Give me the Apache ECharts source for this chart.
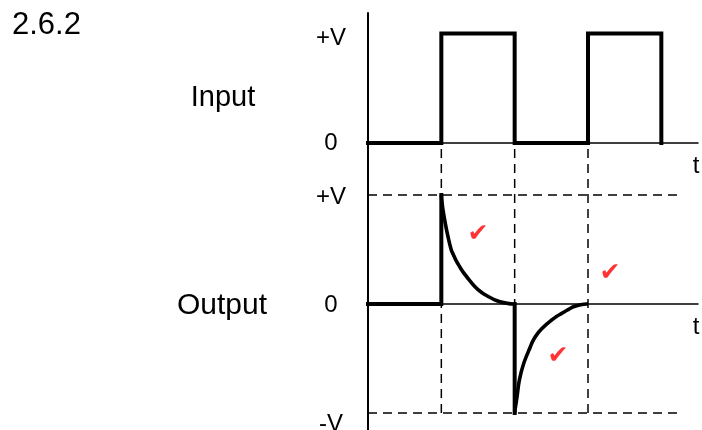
<!DOCTYPE html>
<html><head><meta charset="utf-8">
<script src="https://cdn.jsdelivr.net/npm/echarts@6/dist/echarts.min.js"></script>
<style>html,body{margin:0;padding:0;background:#fff}#c{width:702px;height:430px}</style>
</head><body><div id="c"></div>
<script>
// Input square wave (t in half-periods, value in units of V)
const inputT = [0, 1, 1, 2, 2, 3, 3, 4, 4];
const inputV = [0, 0, 1, 1, 0, 0, 1, 1, 0];
// Output: step up then RC decay, step down then RC recovery
const stepUpT = [0, 1, 1];
const stepUpV = [0, 0, 1];
const decayT = [1, 1.006, 1.023, 1.054, 1.091, 1.136, 1.163, 1.20, 1.25, 1.30, 1.346, 1.459, 1.55, 1.644, 1.72, 1.800, 1.90, 1.977, 2];
const decayV = [1, 0.95, 0.862, 0.740, 0.617, 0.495, 0.454, 0.40, 0.342, 0.29, 0.250, 0.159, 0.105, 0.067, 0.04, 0.021, 0.006, 0, 0];
const stepDownT = [2, 2];
const stepDownV = [0, -1];
const riseT = [2, 2.005, 2.032, 2.063, 2.123, 2.213, 2.254, 2.314, 2.369, 2.44, 2.505, 2.57, 2.642, 2.72, 2.800, 2.90, 2.982, 3];
const riseV = [-1, -0.97, -0.854, -0.700, -0.546, -0.394, -0.332, -0.270, -0.228, -0.182, -0.147, -0.114, -0.086, -0.055, -0.025, -0.006, 0, 0];
// Guides
const edgeTimes = [1, 2, 3];
const levelValues = [1, -1];
const guideEnd = 4.26;
const levelLabels = {'1': '+V', '0': '0', '-1': '-V'};
// Check marks
const checkT = [1.50, 2.59, 3.30];
const checkV = [0.633, -0.485, 0.284];
const texts = {number: '2.6.2', input: 'Input', output: 'Output', axis: 't', check: '✔'};

const zip = (a, b) => a.map((x, i) => [x, b[i]]);
const FONT = 'Liberation Sans, Arial, sans-serif';
const Y2MIN = -1.156, Y2MAX = 1.477;

const chart = echarts.init(document.getElementById('c'), null, {renderer: 'canvas'});

const thick = {color: '#000', width: 4, cap: 'square', join: 'miter'};
const curve = {color: '#000', width: 3.6, cap: 'butt', join: 'round'};
const series = [];
series.push({type: 'line', xAxisIndex: 0, yAxisIndex: 0, data: zip(inputT, inputV), symbol: 'none', lineStyle: thick, z: 5});
series.push({type: 'line', xAxisIndex: 1, yAxisIndex: 1, data: zip(stepUpT, stepUpV), symbol: 'none', lineStyle: thick, z: 5});
series.push({type: 'line', xAxisIndex: 1, yAxisIndex: 1, data: zip(decayT, decayV), symbol: 'none', smooth: 0.35, lineStyle: curve, z: 5});
series.push({type: 'line', xAxisIndex: 1, yAxisIndex: 1, data: zip(stepDownT, stepDownV), symbol: 'none', lineStyle: thick, z: 5});
series.push({type: 'line', xAxisIndex: 1, yAxisIndex: 1, data: zip(riseT, riseV), symbol: 'none', smooth: 0.35, lineStyle: curve, z: 5});
const dash = {color: '#000', width: 1.5, type: [9, 6]};
edgeTimes.forEach(t => series.push({type: 'line', xAxisIndex: 1, yAxisIndex: 1, data: [[t, -1], [t, Y2MAX]], symbol: 'none', lineStyle: dash, z: 2}));
levelValues.forEach(v => series.push({type: 'line', xAxisIndex: 1, yAxisIndex: 1, data: [[0, v], [guideEnd, v]], symbol: 'none', lineStyle: dash, z: 2}));
series.push({type: 'scatter', xAxisIndex: 1, yAxisIndex: 1, data: zip(checkT, checkV), symbolSize: 1, itemStyle: {color: 'rgba(0,0,0,0)'},
  label: {show: true, position: 'inside', formatter: texts.check, color: '#ff0000', fontSize: 25, fontFamily: 'DejaVu Sans'}, z: 6});

const yLabel = (v) => {
  const k = String(Math.round(v));
  if (k === '1') return '{up|' + levelLabels[k] + '}';
  if (k === '-1') return '{dn|' + levelLabels[k] + '}';
  return '{z|' + levelLabels[k] + '}';
};
const yLabelTop = (v) => {
  const k = String(Math.round(v));
  if (k === '1') return '{up2|' + levelLabels[k] + '}';
  return levelLabels[k];
};
const rich = {up: {fontSize: 24, fontFamily: FONT, color: '#000', padding: [5, 0, 0, 0]},
  up2: {fontSize: 24, fontFamily: FONT, color: '#000', padding: [10, 0, 0, 0]},
  z: {fontSize: 24, fontFamily: FONT, color: '#000', padding: [2, 0, 0, 0]},
  dn: {fontSize: 24, fontFamily: FONT, color: '#000', padding: [22, 0, 0, 0]}};

const xAxisBase = {type: 'value', min: 0, max: 4.5, splitLine: {show: false}, axisTick: {show: false}, axisLabel: {show: false},
  axisLine: {show: true, onZero: true, lineStyle: {color: '#000', width: 1.5}},
  name: texts.axis, nameLocation: 'end', nameGap: -2,
  nameTextStyle: {fontSize: 24, fontFamily: FONT, color: '#000', align: 'center', verticalAlign: 'top', padding: [11, 0, 0, 0]}};

chart.setOption({
  backgroundColor: '#fff',
  animation: false,
  grid: [
    {left: 368, top: 13, right: 4, height: 130, outerBoundsMode: 'none', containLabel: false},
    {left: 368, top: 143, right: 4, height: 287, outerBoundsMode: 'none', containLabel: false}
  ],
  xAxis: [Object.assign({gridIndex: 0}, xAxisBase), Object.assign({gridIndex: 1}, xAxisBase)],
  yAxis: [
    {gridIndex: 0, type: 'value', min: 0, max: 130 / 109.5, splitLine: {show: false}, axisTick: {show: false},
      axisLine: {show: true, onZero: false, lineStyle: {color: '#000', width: 2}},
      axisLabel: {customValues: [0, 1], formatter: yLabelTop, align: 'center', margin: 37, fontSize: 24, fontFamily: FONT, color: '#000', rich: rich}},
    {gridIndex: 1, type: 'value', min: Y2MIN, max: Y2MAX, splitLine: {show: false}, axisTick: {show: false},
      axisLine: {show: true, onZero: false, lineStyle: {color: '#000', width: 2}},
      axisLabel: {customValues: [-1, 0, 1], formatter: yLabel, align: 'center', margin: 37, fontSize: 24, fontFamily: FONT, color: '#000', rich: rich}}
  ],
  graphic: [
    {type: 'text', left: 12, top: 10, style: {text: texts.number, font: '31px ' + FONT, fill: '#000'}},
    {type: 'text', x: 223, y: 98, style: {text: texts.input, font: '29px ' + FONT, fill: '#000', align: 'center', verticalAlign: 'middle'}},
    {type: 'text', x: 222, y: 306, style: {text: texts.output, font: '30px ' + FONT, fill: '#000', align: 'center', verticalAlign: 'middle'}}
  ],
  series: series
});
</script></body></html>
